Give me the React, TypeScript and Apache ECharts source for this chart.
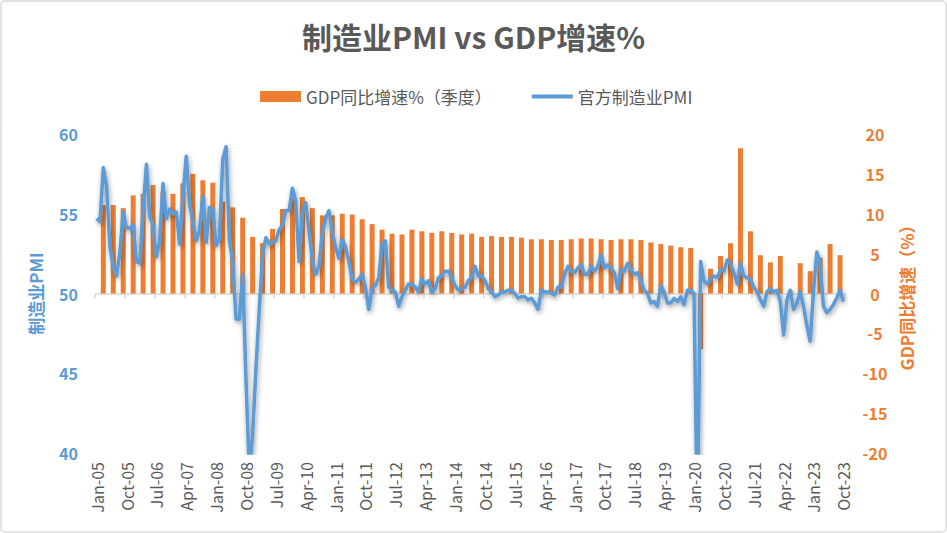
import React, { useEffect, useRef } from "react";
import * as echarts from "echarts";

const MONTH_NAMES = ["Jan", "Feb", "Mar", "Apr", "May", "Jun", "Jul", "Aug", "Sep", "Oct", "Nov", "Dec"];
const START_YEAR = 2005;
const MONTH_COUNT = 226; // Jan-05 .. Oct-23

const months: string[] = [];
for (let i = 0; i < MONTH_COUNT; i++) {
  const y = START_YEAR + Math.floor(i / 12);
  months.push(`${MONTH_NAMES[i % 12]}-${String(y % 100).padStart(2, "0")}`);
}

// 官方制造业PMI (monthly)
const pmi2005 = [54.7, 54.5, 57.9, 56.7, 52.9, 51.7, 51.1, 52.6, 55.1, 54.1, 54.1, 54.3];
const pmi2006 = [52.0, 51.9, 55.3, 58.1, 54.8, 54.3, 52.3, 53.3, 56.9, 54.7, 55.3, 55.0];
const pmi2007 = [55.1, 53.1, 56.1, 58.6, 55.6, 54.5, 53.3, 54.0, 56.1, 53.2, 55.4, 55.3];
const pmi2008 = [53.0, 53.4, 58.4, 59.2, 53.3, 52.0, 48.4, 48.4, 51.2, 44.6, 38.8, 41.2];
const pmi2009 = [45.3, 49.0, 52.4, 53.5, 53.1, 53.2, 53.3, 54.0, 54.3, 55.2, 55.2, 56.6];
const pmi2010 = [55.8, 52.0, 55.1, 55.7, 53.9, 52.1, 51.2, 51.7, 53.8, 54.7, 55.2, 53.9];
const pmi2011 = [52.9, 52.2, 53.4, 52.9, 52.0, 50.9, 50.7, 50.9, 51.2, 50.4, 49.0, 50.3];
const pmi2012 = [50.5, 51.0, 53.1, 53.3, 50.4, 50.2, 50.1, 49.2, 49.8, 50.2, 50.6, 50.6];
const pmi2013 = [50.4, 50.1, 50.9, 50.6, 50.8, 50.1, 50.3, 51.0, 51.1, 51.4, 51.4, 51.0];
const pmi2014 = [50.5, 50.2, 50.3, 50.4, 50.8, 51.0, 51.7, 51.1, 51.1, 50.8, 50.3, 50.1];
const pmi2015 = [49.8, 49.9, 50.1, 50.1, 50.2, 50.2, 50.0, 49.7, 49.8, 49.8, 49.6, 49.7];
const pmi2016 = [49.4, 49.0, 50.2, 50.1, 50.1, 50.0, 49.9, 50.4, 50.4, 51.2, 51.7, 51.4];
const pmi2017 = [51.3, 51.6, 51.8, 51.2, 51.2, 51.7, 51.4, 51.7, 52.4, 51.6, 51.8, 51.6];
const pmi2018 = [51.3, 50.3, 51.5, 51.4, 51.9, 51.5, 51.2, 51.3, 50.8, 50.2, 50.0, 49.4];
const pmi2019 = [49.5, 49.2, 50.5, 50.1, 49.4, 49.4, 49.7, 49.5, 49.8, 49.3, 50.2, 50.2];
const pmi2020 = [50.0, 35.7, 52.0, 50.8, 50.6, 50.9, 51.1, 51.0, 51.5, 51.4, 52.1, 51.9];
const pmi2021 = [51.3, 50.6, 51.9, 51.1, 51.0, 50.9, 50.4, 50.1, 49.6, 49.2, 50.1, 50.3];
const pmi2022 = [50.1, 50.2, 49.5, 47.4, 49.6, 50.2, 49.0, 49.4, 50.1, 49.2, 48.0, 47.0];
const pmi2023 = [50.1, 52.6, 51.9, 49.2, 48.8, 49.0, 49.3, 49.7, 50.2, 49.5];

const pmi: number[] = [
  ...pmi2005, ...pmi2006, ...pmi2007, ...pmi2008, ...pmi2009, ...pmi2010,
  ...pmi2011, ...pmi2012, ...pmi2013, ...pmi2014, ...pmi2015, ...pmi2016,
  ...pmi2017, ...pmi2018, ...pmi2019, ...pmi2020, ...pmi2021, ...pmi2022, ...pmi2023,
];

// GDP同比增速% (quarterly, Q1 2005 .. Q3 2023), placed at quarter-end months
const gdpQuarterly: number[] = [
  11.1, 11.1, 10.7, 12.3,
  12.5, 13.6, 12.8, 12.5,
  13.8, 15.0, 14.2, 13.9,
  11.5, 10.8, 9.5, 7.1,
  6.3, 8.1, 10.6, 11.9,
  12.1, 10.7, 9.8, 9.8,
  10.0, 9.9, 9.3, 8.7,
  8.0, 7.5, 7.4, 8.0,
  7.8, 7.6, 7.8, 7.6,
  7.4, 7.5, 7.1, 7.2,
  7.1, 7.1, 7.0, 6.8,
  6.8, 6.7, 6.7, 6.8,
  6.9, 6.9, 6.8, 6.7,
  6.8, 6.8, 6.7, 6.4,
  6.2, 6.0, 5.8, 5.7,
  -7.0, 3.1, 4.7, 6.3,
  18.2, 7.8, 4.8, 3.9,
  4.7, 0.4, 3.8, 2.8,
  4.5, 6.2, 4.8,
];

const gdpMonthly: (number | null)[] = months.map((_, i) =>
  i % 3 === 2 && (i - 2) / 3 < gdpQuarterly.length ? gdpQuarterly[(i - 2) / 3] : null
);

const leftTicks = { min: 40, max: 60, interval: 5 };
const rightTicks = { min: -20, max: 20, interval: 5 };

const FONT = '"Noto Sans CJK SC", "Noto Sans", sans-serif';
const GREY = "#595959";
const BLUE = "#5B9BD5";
const ORANGE = "#ED7D31";

export default function App() {
  const ref = useRef<HTMLDivElement>(null);
  useEffect(() => {
    if (!ref.current) return;
    const chart = echarts.init(ref.current, undefined, { renderer: "svg" });
    chart.setOption({
      animation: false,
      backgroundColor: "#ffffff",
      textStyle: { fontFamily: FONT },
      title: {
        text: "制造业PMI vs GDP增速%",
        left: "center",
        top: 16,
        textStyle: { fontSize: 30, fontWeight: "bold", color: GREY, fontFamily: FONT },
      },
      legend: {
        left: 255,
        top: 83,
        itemWidth: 41,
        itemHeight: 11,
        itemGap: 40,
        textStyle: { fontSize: 17, color: GREY, fontFamily: FONT },
        data: [
          { name: "GDP同比增速%（季度）", icon: "rect", itemStyle: { color: ORANGE } },
          { name: "官方制造业PMI", icon: "path://M0,0 L41,0 L41,4 L0,4 Z", itemStyle: { color: BLUE } },
        ],
      },
      graphic: [
        {
          type: "rect",
          shape: { x: 1, y: 1, width: 945, height: 531, r: 4 },
          style: { fill: "none", stroke: "#D9D9D9", lineWidth: 1.5 },
          silent: true,
        },
      ],
      grid: { left: 95, right: 102, top: 134, height: 319, containLabel: false },
      xAxis: [
        {
          type: "category",
          data: months,
          position: "bottom",
          boundaryGap: true,
          axisLine: { show: false, onZero: false },
          axisTick: { show: false },
          axisLabel: {
            interval: 8,
            rotate: 90,
            margin: 9,
            color: GREY,
            fontSize: 16,
            fontFamily: FONT,
          },
          splitLine: { show: false },
        },
        {
          type: "category",
          data: months,
          position: "bottom",
          boundaryGap: true,
          axisLine: {
            show: true,
            onZero: true,
            onZeroAxisIndex: 1,
            lineStyle: { color: "#D9D9D9", width: 1.5 },
          },
          axisTick: { show: true, interval: 8, length: 5, lineStyle: { color: "#D9D9D9", width: 1.5 } },
          axisLabel: { show: false },
          splitLine: { show: false },
        },
      ],
      yAxis: [
        {
          type: "value",
          position: "left",
          ...leftTicks,
          name: "制造业PMI",
          nameLocation: "middle",
          nameRotate: 90,
          nameGap: 51,
          nameTextStyle: { color: BLUE, fontSize: 17, fontWeight: "bold", fontFamily: FONT },
          axisLine: { show: false },
          axisTick: { show: false },
          splitLine: { show: false },
          axisLabel: { color: BLUE, fontSize: 16, fontWeight: "bold", margin: 17, fontFamily: FONT },
        },
        {
          type: "value",
          position: "right",
          ...rightTicks,
          name: "GDP同比增速（%）",
          nameLocation: "middle",
          nameRotate: 90,
          nameGap: 50,
          nameTextStyle: { color: ORANGE, fontSize: 17, fontWeight: "bold", fontFamily: FONT },
          axisLine: { show: false },
          axisTick: { show: false },
          splitLine: { show: false },
          axisLabel: { color: ORANGE, fontSize: 16, fontWeight: "bold", margin: 30, align: "center", fontFamily: FONT },
        },
      ],
      series: [
        {
          name: "GDP同比增速%（季度）",
          type: "bar",
          xAxisIndex: 0,
          yAxisIndex: 1,
          data: gdpMonthly,
          barWidth: 5,
          itemStyle: { color: ORANGE },
        },
        {
          name: "官方制造业PMI",
          type: "line",
          xAxisIndex: 0,
          yAxisIndex: 0,
          data: pmi,
          symbol: "none",
          clip: true,
          lineStyle: {
            color: BLUE,
            width: 3.5,
            join: "round",
            shadowColor: "rgba(0,0,0,0.4)",
            shadowBlur: 5,
            shadowOffsetX: 1,
            shadowOffsetY: 2,
          },
          itemStyle: { color: BLUE },
        },
      ],
    });
    return () => chart.dispose();
  }, []);
  return (
    <div
      ref={ref}
      style={{ position: "fixed", left: 0, top: 0, width: 947, height: 533, background: "#fff" }}
    />
  );
}
